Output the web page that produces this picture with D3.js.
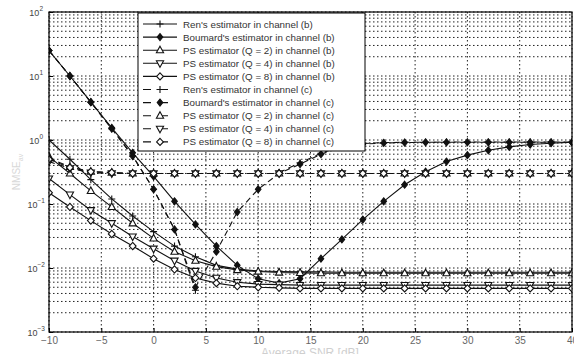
<!DOCTYPE html>
<html>
<head>
<meta charset="utf-8">
<script src="https://cdn.jsdelivr.net/npm/d3@7"></script>
<style>
  body { margin: 0; background: #fff; }
  svg { display: block; font-family: "Liberation Sans", Arial, sans-serif; }
</style>
</head>
<body>
<div id="chart"></div>
<script>
// Average SNR (dB) at each marker
var snr = [-10, -8, -6, -4, -2, 0, 2, 4, 6, 8, 10, 12, 14, 16, 18, 20, 22, 24, 26, 28, 30, 32, 34, 36, 38, 40];

// channel (b), solid lines
var renB     = [1.0, 0.5, 0.24, 0.12, 0.065, 0.037, 0.022, 0.015, 0.011, 0.0096, 0.009, 0.0088, 0.0087, 0.0087, 0.0086, 0.0086, 0.0086, 0.0086, 0.0086, 0.0086, 0.0086, 0.0086, 0.0086, 0.0086, 0.0086, 0.0086];
var boumardB = [25, 10, 3.9, 1.55, 0.63, 0.27, 0.11, 0.048, 0.022, 0.011, 0.0068, 0.0058, 0.0068, 0.014, 0.028, 0.057, 0.11, 0.2, 0.32, 0.46, 0.58, 0.69, 0.78, 0.85, 0.89, 0.92];
var psB2     = [0.55, 0.3, 0.16, 0.09, 0.05, 0.029, 0.018, 0.013, 0.0105, 0.0093, 0.0088, 0.0085, 0.0084, 0.0083, 0.0083, 0.0083, 0.0083, 0.0083, 0.0083, 0.0083, 0.0083, 0.0083, 0.0083, 0.0083, 0.0083, 0.0083];
var psB4     = [0.25, 0.14, 0.08, 0.05, 0.031, 0.02, 0.013, 0.009, 0.007, 0.006, 0.0056, 0.0055, 0.0054, 0.0054, 0.0054, 0.0054, 0.0054, 0.0054, 0.0054, 0.0054, 0.0054, 0.0054, 0.0054, 0.0054, 0.0054, 0.0054];
var psB8     = [0.15, 0.09, 0.055, 0.034, 0.022, 0.014, 0.0095, 0.007, 0.0058, 0.0052, 0.005, 0.0049, 0.0048, 0.0048, 0.0048, 0.0048, 0.0048, 0.0048, 0.0048, 0.0048, 0.0048, 0.0048, 0.0048, 0.0048, 0.0048, 0.0048];

// channel (c), dashed lines
var renC     = [25, 10, 3.9, 1.5, 0.56, 0.17, 0.04, 0.0045, null, null, null, 0.31, 0.44, 0.62, 0.8, 0.88, 0.91, 0.92, 0.92, 0.93, 0.93, 0.93, 0.93, 0.93, 0.93, 0.93];
var boumardC = [25, 10, 3.9, 1.5, 0.56, 0.17, 0.04, 0.005, 0.018, 0.075, 0.17, 0.3, 0.42, 0.6, 0.78, 0.86, 0.9, 0.91, 0.92, 0.92, 0.92, 0.92, 0.92, 0.92, 0.92, 0.92];
var psC2     = [0.52, 0.38, 0.32, 0.31, 0.3, 0.3, 0.3, 0.3, 0.3, 0.3, 0.3, 0.3, 0.3, 0.3, 0.3, 0.3, 0.3, 0.3, 0.3, 0.3, 0.3, 0.3, 0.3, 0.3, 0.3, 0.3];
var psC4     = [0.46, 0.36, 0.31, 0.3, 0.3, 0.3, 0.3, 0.3, 0.3, 0.3, 0.3, 0.3, 0.3, 0.3, 0.3, 0.3, 0.3, 0.3, 0.3, 0.3, 0.3, 0.3, 0.3, 0.3, 0.3, 0.3];
var psC8     = [0.5, 0.37, 0.32, 0.31, 0.3, 0.3, 0.3, 0.3, 0.3, 0.3, 0.3, 0.3, 0.3, 0.3, 0.3, 0.3, 0.3, 0.3, 0.3, 0.3, 0.3, 0.3, 0.3, 0.3, 0.3, 0.3];

var xTicks = [-10, -5, 0, 5, 10, 15, 20, 25, 30, 35, 40];
var yDecades = [-3, -2, -1, 0, 1, 2];

var series = [
  { name: "Ren's estimator in channel (b)",       values: renB,     dashed: false, marker: "plus" },
  { name: "Boumard's estimator in channel (b)",   values: boumardB, dashed: false, marker: "fdiamond" },
  { name: "PS estimator (Q = 2) in channel (b)",  values: psB2,     dashed: false, marker: "triup" },
  { name: "PS estimator (Q = 4) in channel (b)",  values: psB4,     dashed: false, marker: "tridown" },
  { name: "PS estimator (Q = 8) in channel (b)",  values: psB8,     dashed: false, marker: "odiamond" },
  { name: "Ren's estimator in channel (c)",       values: renC,     dashed: true,  marker: "plus" },
  { name: "Boumard's estimator in channel (c)",   values: boumardC, dashed: true,  marker: "fdiamond" },
  { name: "PS estimator (Q = 2) in channel (c)",  values: psC2,     dashed: true,  marker: "triup" },
  { name: "PS estimator (Q = 4) in channel (c)",  values: psC4,     dashed: true,  marker: "tridown" },
  { name: "PS estimator (Q = 8) in channel (c)",  values: psC8,     dashed: true,  marker: "odiamond" }
];

// marker shapes
var markerPath = {
  plus: "M-3.5,0H3.5M0,-3.5V3.5",
  fdiamond: "M0,-3.5L2.8,0L0,3.5L-2.8,0Z",
  triup: "M0,-4L3.6,2.6L-3.6,2.6Z",
  tridown: "M0,4L3.6,-2.6L-3.6,-2.6Z",
  odiamond: "M0,-3.6L3.4,0L0,3.6L-3.4,0Z"
};
function markerFill(m) {
  if (m === "fdiamond") return "#111";
  if (m === "plus") return "none";
  return "#fff";
}

var svgWidth = 574;
var svgHeight = 354;
var margin = { top: 12, right: 2, bottom: 22, left: 49 };
var width = svgWidth - margin.left - margin.right;
var height = svgHeight - margin.top - margin.bottom;

var svg = d3.select("#chart")
  .append("svg")
  .attr("width", svgWidth)
  .attr("height", svgHeight);

var chartGroup = svg.append("g")
  .attr("transform", `translate(${margin.left}, ${margin.top})`);

var xScale = d3.scaleLinear().domain([-10, 40]).range([0, width]);
var yScale = d3.scaleLog().domain([1e-3, 1e2]).range([height, 0]);

svg.append("defs").append("clipPath").attr("id", "plotClip")
  .append("rect").attr("width", width).attr("height", height);

// grid
var gridColor = "#222";
chartGroup.append("g").selectAll("line")
  .data(yScale.ticks())
  .enter().append("line")
  .attr("x1", 0).attr("x2", width)
  .attr("y1", d => yScale(d)).attr("y2", d => yScale(d))
  .attr("stroke", gridColor).attr("stroke-width", 1)
  .attr("stroke-dasharray", "1.5,2.5");

chartGroup.append("g").selectAll("line")
  .data(xTicks)
  .enter().append("line")
  .attr("x1", d => xScale(d)).attr("x2", d => xScale(d))
  .attr("y1", 0).attr("y2", height)
  .attr("stroke", gridColor).attr("stroke-width", 1)
  .attr("stroke-dasharray", "1.5,2.5");

// axes (ticks inside, like MATLAB)
var bottomAxis = d3.axisBottom(xScale).tickValues(xTicks).tickSizeInner(-4).tickSizeOuter(0).tickPadding(5);
var xAxis = chartGroup.append("g")
  .attr("transform", `translate(0, ${height})`)
  .call(bottomAxis);
xAxis.select(".domain").remove();
xAxis.selectAll("line").attr("stroke", "#000");
xAxis.selectAll("text")
  .attr("fill", "#666")
  .style("font-size", "10px")
  .style("font-family", "\"Liberation Sans\", Arial, sans-serif")
  .text(d => d < 0 ? "\u2212" + Math.abs(d) : d);

var leftAxis = d3.axisLeft(yScale)
  .tickValues(yDecades.map(e => Math.pow(10, e)))
  .tickSizeInner(-4).tickSizeOuter(0).tickFormat("");
var yAxis = chartGroup.append("g").call(leftAxis);
yAxis.select(".domain").remove();
yAxis.selectAll("line").attr("stroke", "#000");

var yLabels = chartGroup.append("g").selectAll("text")
  .data(yDecades)
  .enter().append("text")
  .attr("x", d => d < 0 ? -4 : -6)
  .attr("y", d => yScale(Math.pow(10, d)) + 4)
  .attr("text-anchor", "end")
  .attr("fill", "#444")
  .style("font-size", "9px");
yLabels.append("tspan").text("10");
yLabels.append("tspan")
  .attr("dy", -5)
  .style("font-size", "6.5px")
  .text(d => d < 0 ? "\u2212" + Math.abs(d) : d);

// series lines
var lineGen = d3.line()
  .defined(d => d.v !== null)
  .x(d => xScale(d.x))
  .y(d => yScale(d.v));

var plot = chartGroup.append("g").attr("clip-path", "url(#plotClip)");

series.forEach(function(s) {
  var pts = snr.map((x, i) => ({ x: x, v: s.values[i] }));
  plot.append("path")
    .datum(pts)
    .attr("d", lineGen)
    .attr("fill", "none")
    .attr("stroke", "#111")
    .attr("stroke-width", 1.1)
    .attr("stroke-dasharray", s.dashed ? "6,4" : null);

  plot.append("g").selectAll("path")
    .data(pts.filter(d => d.v !== null))
    .enter().append("path")
    .attr("transform", d => `translate(${xScale(d.x)}, ${yScale(d.v)})`)
    .attr("d", markerPath[s.marker])
    .attr("fill", markerFill(s.marker))
    .attr("stroke", "#111")
    .attr("stroke-width", 1.1);
});

// frame
chartGroup.append("rect")
  .attr("width", width).attr("height", height)
  .attr("fill", "none").attr("stroke", "#000").attr("stroke-width", 1.2);

// legend
var legend = svg.append("g").attr("transform", "translate(138, 13)");
legend.append("rect")
  .attr("width", 227).attr("height", 138)
  .attr("fill", "#fff").attr("stroke", "#000").attr("stroke-width", 1);

var rows = legend.selectAll(".row")
  .data(series)
  .enter().append("g")
  .attr("transform", (d, i) => `translate(0, ${11 + i * 13.1})`);

rows.append("line")
  .attr("x1", 5).attr("x2", 39)
  .attr("stroke", "#111").attr("stroke-width", 1.1)
  .attr("stroke-dasharray", d => d.dashed ? "8,9" : null);
rows.append("path")
  .attr("transform", "translate(22, 0)")
  .attr("d", d => markerPath[d.marker])
  .attr("fill", d => markerFill(d.marker))
  .attr("stroke", "#111").attr("stroke-width", 1.1);
rows.append("text")
  .attr("x", 45).attr("y", 3.5)
  .attr("fill", "#333")
  .style("font-size", "9.8px")
  .text(d => d.name);

// axis titles (very faint in the reference)
svg.append("text")
  .attr("x", 310).attr("y", 357)
  .attr("text-anchor", "middle")
  .attr("fill", "#cfcfcf")
  .style("font-size", "12px")
  .text("Average SNR [dB]");

var yTitle = svg.append("text")
  .attr("transform", "translate(20, 172) rotate(-90)")
  .attr("text-anchor", "middle")
  .attr("fill", "#d8d8d8")
  .style("font-size", "10px");
yTitle.append("tspan").text("NMSE");
yTitle.append("tspan").attr("dy", 3).style("font-size", "7px").text("av");
</script>
</body>
</html>
